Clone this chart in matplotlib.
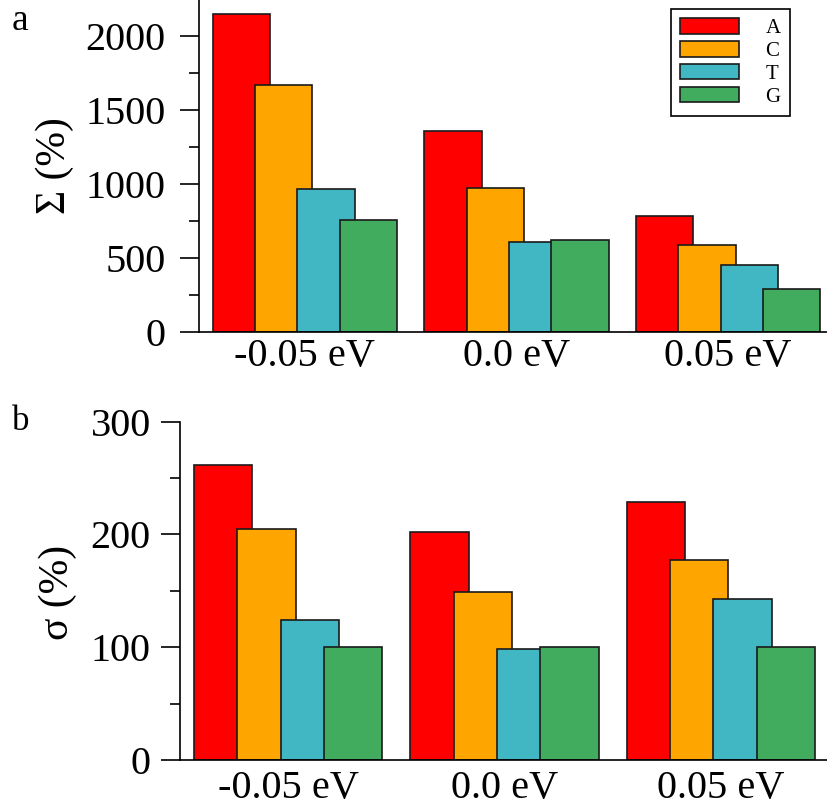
import matplotlib
matplotlib.use('Agg')
import matplotlib.pyplot as plt
from matplotlib.ticker import MultipleLocator


energies = ['-0.05 eV', '0.0 eV', '0.05 eV']
bases = ['A', 'C', 'T', 'G']
colours = ['#ff0000', '#ffa500', '#41b7c4', '#41ac5e']

# panel a: Sigma (%)
sigma_big_a = [2150, 1356, 786]
sigma_big_c = [1668, 976, 590]
sigma_big_t = [969, 610, 454]
sigma_big_g = [760, 624, 292]

# panel b: sigma (%)
sigma_small_a = [262, 202, 229]
sigma_small_c = [205, 149, 177]
sigma_small_t = [124, 98, 143]
sigma_small_g = [100, 100, 100]

W, H = 828, 806


def px_box(left, top, right, bottom):
    return [left / W, 1 - bottom / H, (right - left) / W, (bottom - top) / H]


def draw_bars(ax, series):
    x = list(range(len(energies)))
    bars = []
    for j, (name, vals, col) in enumerate(zip(bases, series, colours)):
        pos = [i + (j - 1.5) * 0.2 for i in x]
        b = ax.bar(pos, vals, width=0.27, color=col, edgecolor='#1a1a1a',
                   linewidth=1.2, label=name)
        bars.append(b)
    ax.set_xlim(-0.5, 2.5)
    ax.set_xticks(x)
    ax.set_xticklabels(energies)
    for side in ('top', 'right'):
        ax.spines[side].set_visible(False)
    for side in ('left', 'bottom'):
        ax.spines[side].set_linewidth(1.2)
    ax.tick_params(axis='x', length=0, labelsize=29)
    ax.tick_params(axis='y', which='major', direction='out', length=14,
                   width=1.2, labelsize=29)
    ax.tick_params(axis='y', which='minor', direction='out', length=7,
                   width=1.2)
    return bars


def main():
    plt.rcParams['font.family'] = ['Liberation Serif', 'DejaVu Serif']
    fig = plt.figure(figsize=(W / 100, H / 100), dpi=100)

    ax_a = fig.add_axes(px_box(199, -1, 834, 332))
    bars = draw_bars(ax_a, [sigma_big_a, sigma_big_c, sigma_big_t, sigma_big_g])
    ax_a.set_ylim(0, 2250)
    ax_a.yaxis.set_major_locator(MultipleLocator(500))
    ax_a.yaxis.set_minor_locator(MultipleLocator(250))
    ax_a.tick_params(axis='x', pad=4.5)
    ax_a.tick_params(axis='y', pad=10)

    ax_b = fig.add_axes(px_box(180, 421.7, 829, 760))
    draw_bars(ax_b, [sigma_small_a, sigma_small_c, sigma_small_t, sigma_small_g])
    ax_b.set_ylim(0, 300)
    ax_b.yaxis.set_major_locator(MultipleLocator(100))
    ax_b.yaxis.set_minor_locator(MultipleLocator(50))
    ax_b.tick_params(axis='x', pad=7)
    ax_b.tick_params(axis='y', pad=7)

    fig.text(55 / W, 1 - 166 / H, 'Σ (%)', rotation=90, ha='center',
             va='center', fontsize=30)
    fig.text(58 / W, 1 - 592 / H, 'σ (%)', rotation=90, ha='center',
             va='center', fontsize=30)
    fig.text(12 / W, 1 - 30 / H, 'a', fontsize=27, va='baseline')
    fig.text(12 / W, 1 - 430 / H, 'b', fontsize=25, va='baseline')

    leg = fig.legend(handles=bars, loc='upper left',
                     bbox_to_anchor=(671 / W, 1 - 9 / H),
                     bbox_transform=fig.transFigure, fontsize=15,
                     frameon=True, fancybox=False, framealpha=1,
                     edgecolor='black', handlelength=2.79, handleheight=0.77,
                     handletextpad=1.3, labelspacing=0.13, borderpad=0.45,
                     borderaxespad=0)
    leg.get_frame().set_linewidth(1.2)

    fig.savefig('out.png', dpi=100)


main()
